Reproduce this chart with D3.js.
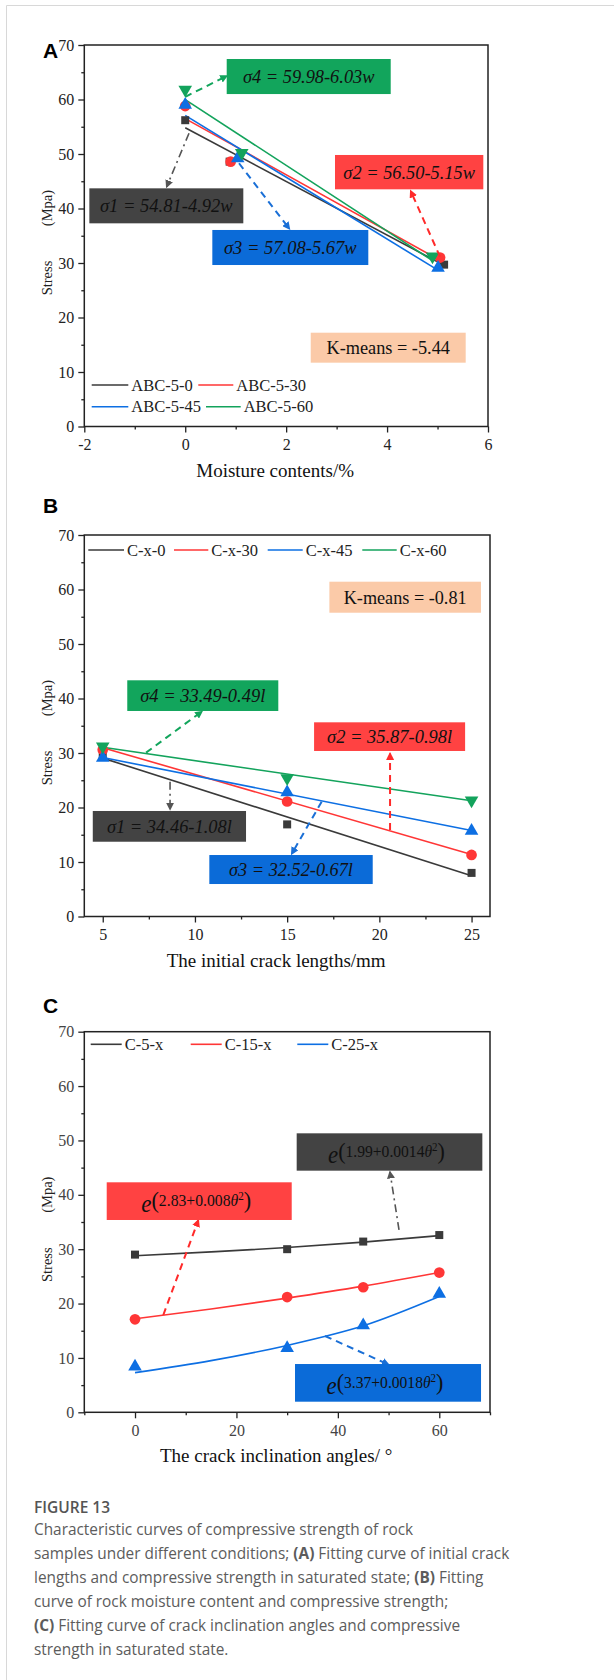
<!DOCTYPE html>
<html>
<head>
<meta charset="utf-8">
<script src="https://cdn.jsdelivr.net/npm/d3@7"></script>
<style>
	body { margin: 0; background: #fff; }
</style>
</head>
<body>
<div id="chart"></div>
<script>
// ---- data ----
// (A) stress vs moisture content
var aSeries = ["ABC-5-0", "ABC-5-30", "ABC-5-45", "ABC-5-60"];
var aPointX = [[0, 0.88, 5.13], [0, 0.90, 5.05], [0, 1.04, 5.01], [0, 1.12, 4.90]];
var aPointY = [[56.2, 48.6, 29.7], [58.8, 48.6, 31.0], [59.0, 49.2, 29.1], [61.8, 50.2, 31.2]];
var aFitX = [[0, 5.13], [0, 5.05], [0, 5.00], [0, 4.90]];
var aFitY = [[54.81, 29.57], [56.50, 30.49], [57.08, 28.73], [59.98, 30.43]];
var aTicksX = [-2, 0, 2, 4, 6];

// (B) stress vs initial crack length
var bSeries = ["C-x-0", "C-x-30", "C-x-45", "C-x-60"];
var bX = [5, 15, 25];
var bY = [[29.5, 16.9, 8.0], [30.6, 21.1, 11.3], [29.1, 22.8, 15.7], [31.2, 25.4, 21.3]];
var bFitX = [5, 25];
var bFitY = [[29.06, 7.46], [30.97, 11.37], [29.17, 15.77], [31.04, 21.24]];
var bTicksX = [5, 10, 15, 20, 25];

// (C) stress vs crack inclination angle
var cSeries = ["C-5-x", "C-15-x", "C-25-x"];
var cX = [0, 30, 45, 60];
var cY = [[29.0, 30.0, 31.4, 32.6], [17.1, 21.2, 23.0, 25.7], [8.4, 11.8, 16.0, 21.8]];
var cFitX = [0, 15, 30, 45, 60];
var cFitY = [[28.8, 29.5, 30.3, 31.3, 32.5], [17.2, 19.0, 21.0, 23.2, 25.7], [7.3, 9.5, 12.3, 15.9, 21.3]];
var cTicksX = [0, 20, 40, 60];

var yTicks = [0, 10, 20, 30, 40, 50, 60, 70];

var captionTitle = "FIGURE 13";
var captionLines = [
	[["Characteristic curves of compressive strength of rock", 0]],
	[["samples under different conditions; ", 0], ["(A)", 1], [" Fitting curve of initial crack", 0]],
	[["lengths and compressive strength in saturated state; ", 0], ["(B)", 1], [" Fitting", 0]],
	[["curve of rock moisture content and compressive strength;", 0]],
	[["(C)", 1], [" Fitting curve of crack inclination angles and compressive", 0]],
	[["strength in saturated state.", 0]]
];

// ---- styling ----
var serif = "'Liberation Serif','Times New Roman',serif";
var sans = "'Liberation Sans',Arial,sans-serif";
var lineCol = ["#3a3a3a", "#ff3636", "#0d6fe3", "#13a35c"];
var boxCol = { gray: "#434343", red: "#ff4242", blue: "#0b6bd8", green: "#12a55c", peach: "#fbcaa8" };
var symbols = [d3.symbolSquare, d3.symbolCircle, d3.symbolTriangle, d3.symbolTriangle];
var symSize = [64, 90, 80, 80];

var svg = d3.select("#chart")
	.append("svg")
	.attr("width", 614)
	.attr("height", 1680);

// card border of the page
svg.append("line").attr("x1", 6.5).attr("x2", 614).attr("y1", 5.5).attr("y2", 5.5)
	.attr("stroke", "#d8d8d8").attr("stroke-width", 1);
svg.append("line").attr("x1", 6.5).attr("x2", 6.5).attr("y1", 5.5).attr("y2", 1680)
	.attr("stroke", "#d8d8d8").attr("stroke-width", 1);

var defs = svg.append("defs");
function marker(id, col) {
	defs.append("marker")
		.attr("id", id)
		.attr("viewBox", "0 0 10 10")
		.attr("refX", 8).attr("refY", 5)
		.attr("markerUnits", "userSpaceOnUse")
		.attr("markerWidth", 8).attr("markerHeight", 8)
		.attr("orient", "auto")
		.append("path").attr("d", "M0,0 L10,5 L0,10 z").attr("fill", col);
}
marker("ah-gray", "#555");
marker("ah-red", "#ff2a2a");
marker("ah-blue", "#1a6fd6");
marker("ah-green", "#12a55c");

function panel(p) {
	var x = d3.scaleLinear().domain(p.xDomain).range([p.left, p.right]);
	var y = d3.scaleLinear().domain([0, 70]).range([p.bottom, p.top]);
	var g = svg.append("g");

	// axes
	var tickCol = p.tickCol || "#222";
	g.append("g")
		.attr("transform", "translate(0," + p.bottom + ")")
		.call(d3.axisBottom(x).tickValues(p.xMinor).tickSize(3).tickFormat(""))
		.call(function(s) { s.select(".domain").remove(); });
	g.append("g")
		.attr("transform", "translate(0," + p.bottom + ")")
		.call(d3.axisBottom(x).tickValues(p.xTicks).tickSize(6).tickPadding(6).tickFormat(String))
		.call(function(s) {
			s.select(".domain").remove();
			s.selectAll("text").attr("font-family", serif).attr("font-size", 16).attr("fill", tickCol);
		});
	g.append("g")
		.attr("transform", "translate(" + p.left + ",0)")
		.call(d3.axisLeft(y).tickValues([5, 15, 25, 35, 45, 55, 65]).tickSize(3).tickFormat(""))
		.call(function(s) { s.select(".domain").remove(); });
	g.append("g")
		.attr("transform", "translate(" + p.left + ",0)")
		.call(d3.axisLeft(y).tickValues(yTicks).tickSize(6).tickPadding(4).tickFormat(String))
		.call(function(s) {
			s.select(".domain").remove();
			s.selectAll("text").attr("font-family", serif).attr("font-size", 16).attr("fill", tickCol);
		});
	g.selectAll(".tick line").attr("stroke", "#222").attr("stroke-width", 1.3);

	g.append("rect")
		.attr("x", p.left).attr("y", p.top)
		.attr("width", p.right - p.left).attr("height", p.bottom - p.top)
		.attr("fill", "none").attr("stroke", "#222").attr("stroke-width", 1.5);

	// titles
	g.append("text")
		.attr("x", 43).attr("y", p.labelY)
		.attr("font-family", sans).attr("font-weight", "bold").attr("font-size", 21)
		.text(p.label);
	g.append("text")
		.attr("x", (p.left + p.right) / 2 - 11).attr("y", p.bottom + 50)
		.attr("text-anchor", "middle")
		.attr("font-family", serif).attr("font-size", 19).attr("fill", "#111")
		.text(p.xTitle);
	g.append("text")
		.attr("transform", "translate(52," + (p.top + 233) + ") rotate(-90)")
		.attr("text-anchor", "middle")
		.attr("font-family", serif).attr("font-size", 14.5).attr("fill", "#222")
		.text("Stress");
	g.append("text")
		.attr("transform", "translate(52," + (p.top + 163) + ") rotate(-90)")
		.attr("text-anchor", "middle")
		.attr("font-family", serif).attr("font-size", 14.5).attr("fill", "#222")
		.text("(Mpa)");

	return { g: g, x: x, y: y };
}

function legendItem(g, x0, x1, y, col, name) {
	g.append("line").attr("x1", x0).attr("x2", x1).attr("y1", y).attr("y2", y)
		.attr("stroke", col).attr("stroke-width", 1.6);
	g.append("text").attr("x", x1 + 3).attr("y", y + 5.5)
		.attr("font-family", serif).attr("font-size", 16.5).attr("fill", "#222")
		.text(name);
}

function points(P, xs, ys, i) {
	P.g.selectAll(null)
		.data(xs.map(function(v, k) { return [v, ys[k]]; }))
		.enter().append("path")
		.attr("d", d3.symbol().type(symbols[i]).size(symSize[i]))
		.attr("transform", function(d) {
			return "translate(" + P.x(d[0]) + "," + P.y(d[1]) + ")" + (i === 3 ? " rotate(180)" : "");
		})
		.attr("fill", lineCol[i]);
}

function fitLine(P, xs, ys, i, curve) {
	var line = d3.line()
		.x(function(d) { return P.x(d[0]); })
		.y(function(d) { return P.y(d[1]); })
		.curve(curve || d3.curveLinear);
	P.g.append("path")
		.datum(xs.map(function(v, k) { return [v, ys[k]]; }))
		.attr("d", line)
		.attr("fill", "none")
		.attr("stroke", lineCol[i])
		.attr("stroke-width", 1.6);
}

function box(P, b) {
	var x0 = P.x(b.x0), x1 = P.x(b.x1), y0 = P.y(b.y1), y1 = P.y(b.y0);
	var cx = (x0 + x1) / 2 - (b.shift || 0);
	P.g.append("rect")
		.attr("x", x0).attr("y", y0).attr("width", x1 - x0).attr("height", y1 - y0)
		.attr("fill", boxCol[b.fill]);
	var t = P.g.append("text")
		.attr("x", cx)
		.attr("text-anchor", "middle")
		.attr("font-family", serif)
		.attr("fill", "#111");
	if (b.exp) {
		t.attr("y", y0 + (y1 - y0) * 0.79);
		t.append("tspan").attr("font-size", 25).attr("font-style", "italic").text("e");
		t.append("tspan").attr("font-size", 24).attr("dy", -4).text("(");
		t.append("tspan").attr("font-size", 17).attr("dy", -2).text(b.exp);
		t.append("tspan").attr("font-size", 17).attr("font-style", "italic").text("θ");
		t.append("tspan").attr("font-size", 12).attr("dy", -6).text("2");
		t.append("tspan").attr("font-size", 24).attr("dy", 8).text(")");
	} else {
		t.attr("y", (y0 + y1) / 2 + 6.5)
			.attr("font-size", 19)
			.attr("font-style", b.upright ? "normal" : "italic")
			.text(b.text);
	}
	// squeeze the label to the width it has in the figure
	var w = t.node().getBBox().width;
	if (b.w && w > 0) {
		t.attr("transform", "translate(" + cx + ",0) scale(" + (b.w / w) + ",1) translate(" + (-cx) + ",0)");
	}
}

function arrow(P, a) {
	var st = {
		gray: ["#555", "8,4,2,4", 1.6],
		red: ["#ff2a2a", "7,5", 2],
		blue: ["#1a6fd6", "7,5", 2],
		green: ["#12a55c", "7,5", 2]
	}[a.col];
	P.g.append("line")
		.attr("x1", P.x(a.from[0])).attr("y1", P.y(a.from[1]))
		.attr("x2", P.x(a.to[0])).attr("y2", P.y(a.to[1]))
		.attr("stroke", st[0]).attr("stroke-dasharray", st[1]).attr("stroke-width", st[2])
		.attr("marker-end", "url(#ah-" + a.col + ")");
}

// ---------- panel A ----------
var A = panel({
	left: 84.3, right: 488, top: 45, bottom: 426.5,
	xDomain: [-2, 6], xTicks: aTicksX, xMinor: [-1, 1, 3, 5],
	label: "A", labelY: 58, xTitle: "Moisture contents/%"
});
aSeries.forEach(function(n, i) { fitLine(A, aFitX[i], aFitY[i], i); });
aSeries.forEach(function(n, i) { points(A, aPointX[i], aPointY[i], i); });
[
	{ from: [0, 60.5], to: [0.822, 64.3], col: "green" },
	{ from: [0.075, 53.8], to: [-0.367, 44.0], col: "gray" },
	{ from: [1.066, 48.3], to: [2.063, 36.3], col: "blue" },
	{ from: [5.049, 31.16], to: [4.469, 43.2], col: "red" }
].forEach(function(a) { arrow(A, a); });
[
	{ x0: 0.822, x1: 4.072, y0: 61.0, y1: 67.43, fill: "green", text: "σ4 = 59.98-6.03w", w: 132 },
	{ x0: -1.90, x1: 1.151, y0: 37.28, y1: 43.7, fill: "gray", text: "σ1 = 54.81-4.92w", w: 133 },
	{ x0: 0.537, x1: 3.628, y0: 29.63, y1: 36.06, fill: "blue", text: "σ3 = 57.08-5.67w", w: 133 },
	{ x0: 2.968, x1: 5.907, y0: 43.52, y1: 49.82, fill: "red", text: "σ2 = 56.50-5.15w", w: 132 },
	{ x0: 2.487, x1: 5.558, y0: 11.71, y1: 17.21, fill: "peach", text: "K-means = -5.44", upright: true, w: 124 }
].forEach(function(b) { box(A, b); });
legendItem(A.g, 91.7, 128.3, 385, lineCol[0], aSeries[0]);
legendItem(A.g, 198.3, 233.3, 385, lineCol[1], aSeries[1]);
legendItem(A.g, 91.7, 128.3, 406.7, lineCol[2], aSeries[2]);
legendItem(A.g, 206, 240.7, 406.7, lineCol[3], aSeries[3]);

// ---------- panel B ----------
var B = panel({
	left: 84.3, right: 490, top: 535, bottom: 916.5,
	xDomain: [4, 26], xTicks: bTicksX, xMinor: [7.5, 12.5, 17.5, 22.5],
	label: "B", labelY: 513, xTitle: "The initial crack lengths/mm"
});
bSeries.forEach(function(n, i) { fitLine(B, bFitX, bFitY[i], i); });
bSeries.forEach(function(n, i) { points(B, bX, bY[i], i); });
[
	{ from: [7.35, 30.06], to: [10.37, 37.6], col: "green" },
	{ from: [20.58, 15.87], to: [20.58, 29.9], col: "red" },
	{ from: [8.65, 24.73], to: [8.65, 19.7], col: "gray" },
	{ from: [16.87, 21.06], to: [15.25, 11.5], col: "blue" }
].forEach(function(a) { arrow(B, a); });
[
	{ x0: 6.33, x1: 14.52, y0: 37.71, y1: 43.34, fill: "green", text: "σ4 = 33.49-0.49l", w: 125 },
	{ x0: 16.46, x1: 24.65, y0: 30.37, y1: 35.63, fill: "red", text: "σ2 = 35.87-0.98l", w: 125 },
	{ x0: 4.46, x1: 12.77, y0: 13.72, y1: 19.36, fill: "gray", text: "σ1 = 34.46-1.08l", w: 125 },
	{ x0: 10.78, x1: 19.64, y0: 5.96, y1: 11.28, fill: "blue", text: "σ3 = 32.52-0.67l", w: 124 },
	{ x0: 17.29, x1: 25.51, y0: 55.74, y1: 61.43, fill: "peach", text: "K-means = -0.81", upright: true, w: 123 }
].forEach(function(b) { box(B, b); });
legendItem(B.g, 88.3, 124, 550, lineCol[0], bSeries[0]);
legendItem(B.g, 174, 208.3, 550, lineCol[1], bSeries[1]);
legendItem(B.g, 267.7, 302.7, 550, lineCol[2], bSeries[2]);
legendItem(B.g, 362.3, 396.7, 550, lineCol[3], bSeries[3]);

// ---------- panel C ----------
var C = panel({
	left: 84.3, right: 490, top: 1031.7, bottom: 1412.3,
	xDomain: [-10, 70], xTicks: cTicksX, xMinor: [-10, 10, 30, 50, 70],
	label: "C", labelY: 1013, xTitle: "The crack inclination angles/ °",
	tickCol: "#444"
});
cSeries.forEach(function(n, i) { fitLine(C, cFitX, cFitY[i], i, d3.curveMonotoneX); });
cSeries.forEach(function(n, i) { points(C, cX, cY[i], i); });
[
	{ from: [52.06, 33.53], to: [50.28, 44.2], col: "gray" },
	{ from: [5.58, 17.9], to: [12.48, 35.3], col: "red" },
	{ from: [37.47, 14.03], to: [49.95, 8.8], col: "blue" }
].forEach(function(a) { arrow(C, a); });
[
	{ x0: 31.88, x1: 68.49, y0: 44.44, y1: 51.31, fill: "gray", exp: "1.99+0.0014", w: 117, shift: 3 },
	{ x0: -5.58, x1: 30.90, y0: 35.37, y1: 42.30, fill: "red", exp: "2.83+0.008", w: 110, shift: 3 },
	{ x0: 31.55, x1: 68.23, y0: 1.95, y1: 8.88, fill: "blue", exp: "3.37+0.0018", w: 117, shift: 3 }
].forEach(function(b) { box(C, b); });
legendItem(C.g, 90.7, 121.7, 1044.3, lineCol[0], cSeries[0]);
legendItem(C.g, 190.7, 221.7, 1044.3, lineCol[1], cSeries[1]);
legendItem(C.g, 297.3, 328.3, 1044.3, lineCol[2], cSeries[2]);

// ---------- caption ----------
var capFont = "'Open Sans','Noto Sans',sans-serif";
svg.append("text")
	.attr("x", 34).attr("y", 1513)
	.attr("font-family", capFont).attr("font-weight", 600).attr("font-size", 15.5)
	.attr("fill", "#555")
	.text(captionTitle);
var capBase = [1535, 1559, 1583, 1607, 1631, 1655];
var capWidth = [378, 466, 452, 403, 437, 206];
var capText = captionLines.map(function(parts, i) {
	var t = svg.append("text")
		.attr("x", 34).attr("y", capBase[i])
		.attr("font-family", capFont).attr("font-size", 15)
		.attr("fill", "#5c5c5c");
	parts.forEach(function(p) {
		t.append("tspan").attr("font-weight", p[1] ? 700 : 400).text(p[0]);
	});
	return t;
});
// pick one font size for the whole paragraph so the long lines fit the figure width
var ratios = capText.map(function(t, i) { return capWidth[i] / t.node().getComputedTextLength(); });
var capSize = 15 * d3.median(ratios);
capText.forEach(function(t) { t.attr("font-size", capSize); });
</script>
</body>
</html>
